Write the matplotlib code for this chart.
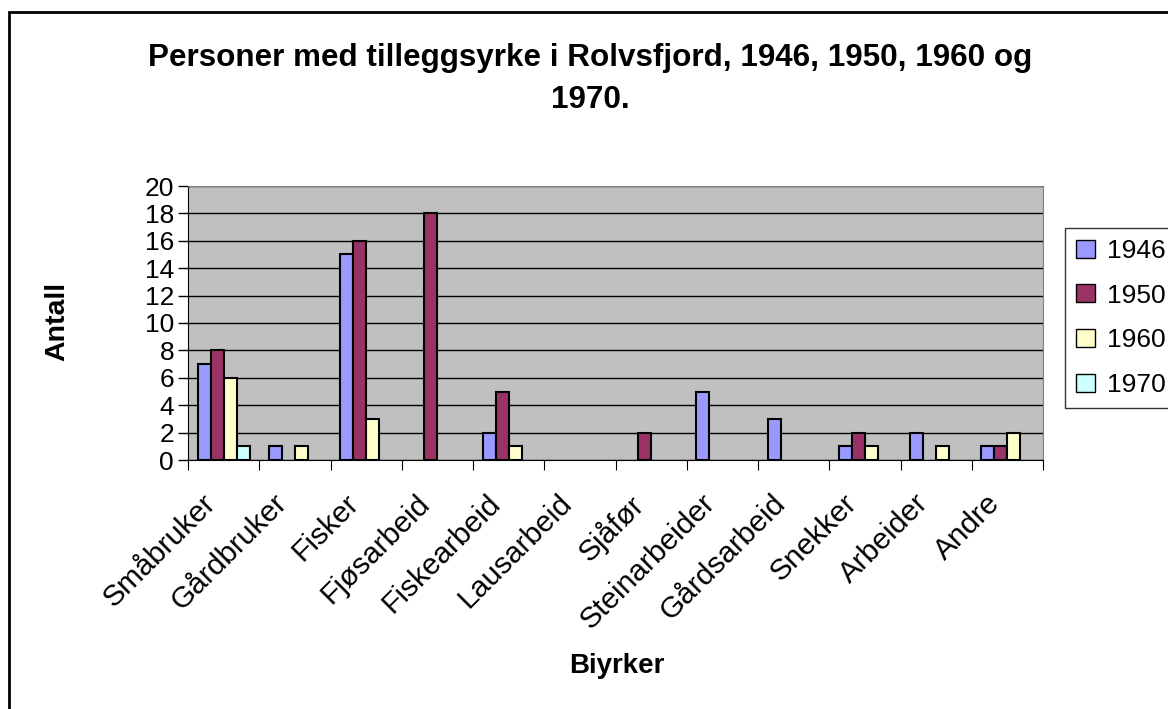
import numpy as np
import matplotlib.pyplot as plt
import matplotlib.transforms as mtransforms
from matplotlib.patches import Patch, Rectangle

plt.rcParams['font.family'] = ['Liberation Sans', 'DejaVu Sans']

categories = ['Småbruker', 'Gårdbruker', 'Fisker', 'Fjøsarbeid', 'Fiskearbeid',
              'Lausarbeid', 'Sjåfør', 'Steinarbeider', 'Gårdsarbeid', 'Snekker',
              'Arbeider', 'Andre']
years = ['1946', '1950', '1960', '1970']
v1946 = [7, 1, 15, 0, 2, 0, 0, 5, 3, 1, 2, 1]
v1950 = [8, 0, 16, 18, 5, 0, 2, 0, 0, 2, 0, 1]
v1960 = [6, 1, 3, 0, 1, 0, 0, 0, 0, 1, 1, 2]
v1970 = [1, 0, 0, 0, 0, 0, 0, 0, 0, 0, 0, 0]
colors = ['#9999FF', '#993366', '#FFFFCC', '#CCFFFF']

fig = plt.figure(figsize=(11.68, 7.09), dpi=100)
ax = fig.add_axes([188 / 1168, 1 - 460 / 709, 855 / 1168, 274 / 709])
ax.set_facecolor('#C0C0C0')

# excel style: 4 bars + 150% gap per category
x = np.arange(len(categories))
w = 1 / 5.5
series = [v1946, v1950, v1960, v1970]
for i, (vals, c) in enumerate(zip(series, colors)):
    xs = x - 2 * w + (i + 0.5) * w
    for xi, v in zip(xs, vals):
        if v > 0:
            ax.bar(xi, v, width=w, color=c, edgecolor='black', linewidth=1.5, zorder=3)

ax.set_xlim(-0.5, len(categories) - 0.5)
ax.set_ylim(0, 20)
ax.set_yticks(range(0, 21, 2))
ax.yaxis.grid(True, color='black', linewidth=1)
ax.set_axisbelow(True)
ax.tick_params(axis='y', direction='out', length=7, labelsize=19, width=1, pad=3)

ax.set_xticks(np.arange(-0.5, len(categories)), minor=False)
ax.set_xticklabels([])
ax.set_xticks(x, minor=True)
ax.set_xticklabels(categories, minor=True, rotation=45, ha='right', va='top',
                   rotation_mode='anchor', fontsize=21.5)
ax.tick_params(axis='x', which='major', direction='out', length=7)
ax.tick_params(axis='x', which='minor', length=0, pad=21)
shift = mtransforms.ScaledTranslation(-0.22, 0, fig.dpi_scale_trans)
for lab in ax.get_xticklabels(minor=True):
    lab.set_transform(lab.get_transform() + shift)

for s in ['top', 'right']:
    ax.spines[s].set_color('#808080')

fig.text(57 / 1168, 1 - 321 / 709, 'Antall', fontsize=20.5, fontweight='bold',
         rotation=90, ha='center', va='center')
fig.text(617 / 1168, 1 - 666 / 709, 'Biyrker', fontsize=20, fontweight='bold',
         ha='center', va='center')
fig.text(590 / 1168, 1 - 79 / 709,
         'Personer med tilleggsyrke i Rolvsfjord, 1946, 1950, 1960 og\n1970.',
         fontsize=22.6, fontweight='bold', ha='center', va='center', linespacing=1.5)

handles = [Patch(facecolor=c, edgecolor='black', label=y) for c, y in zip(colors, years)]
leg = fig.legend(handles=handles, loc='upper left',
                 bbox_to_anchor=(1065 / 1168, 1 - 228 / 709), fontsize=19,
                 fancybox=False, frameon=True, handlelength=0.72, handleheight=0.68,
                 handletextpad=0.45, labelspacing=0.78, borderpad=0.42,
                 borderaxespad=0)
leg.get_frame().set_edgecolor('black')
leg.get_frame().set_linewidth(1)

fig.patches.append(Rectangle((9 / 1168, -0.1), 1.2, 1 - 12 / 709 + 0.1,
                             transform=fig.transFigure, fill=False,
                             edgecolor='black', linewidth=2))

fig.savefig('out.png', dpi=100)
